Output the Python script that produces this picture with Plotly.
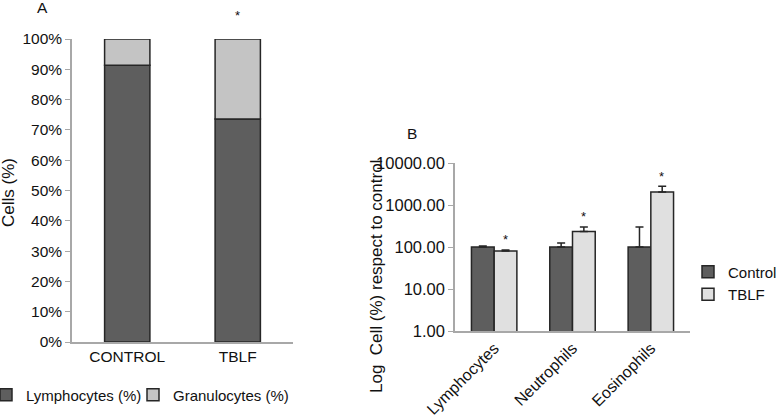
import numpy as np
import plotly.graph_objects as go

# panel A: cell composition (%)
groups_a = ["CONTROL", "TBLF"]
lymphocytes = [91.3, 73.6]
granulocytes = [8.7, 26.4]

# panel B: log cell (%) respect to control
cells_b = ["Lymphocytes", "Neutrophils", "Eosinophils"]
control_b = [100, 100, 100]
control_err = [5, 25, 200]
tblf_b = [80, 235, 2050]
tblf_err = [5, 65, 750]

DARK = "#5e5e5e"
LIGHT_A = "#c4c4c4"
LIGHT_B = "#e0e0e0"
EDGE = "#262626"
AXIS = "#a8a8a8"
FONT = "Liberation Sans, Arial, sans-serif"

fig = go.Figure()

# A: stacked bars built from base (each series in its own legend box)
fig.add_trace(go.Bar(
    x=groups_a, y=lymphocytes, name="Lymphocytes (%)",
    marker=dict(color=DARK, line=dict(color=EDGE, width=1.5)),
    width=0.41, offset=-0.205, xaxis="x", yaxis="y", legend="legend",
))
fig.add_trace(go.Bar(
    x=groups_a, y=granulocytes, base=lymphocytes, name="Granulocytes (%)",
    marker=dict(color=LIGHT_A, line=dict(color=EDGE, width=1.5)),
    width=0.41, offset=-0.205, xaxis="x", yaxis="y", legend="legend3",
))

# B: grouped bars with upper error bars
fig.add_trace(go.Bar(
    x=cells_b, y=control_b, name="Control",
    marker=dict(color=DARK, line=dict(color=EDGE, width=1.5)),
    error_y=dict(type="data", array=control_err, arrayminus=[0] * 3,
                 symmetric=False, color=EDGE, thickness=1.5, width=4),
    xaxis="x2", yaxis="y2", legend="legend2",
))
fig.add_trace(go.Bar(
    x=cells_b, y=tblf_b, name="TBLF",
    marker=dict(color=LIGHT_B, line=dict(color=EDGE, width=1.5)),
    error_y=dict(type="data", array=tblf_err, arrayminus=[0] * 3,
                 symmetric=False, color=EDGE, thickness=1.5, width=4),
    xaxis="x2", yaxis="y2", legend="legend2",
))

annotations = [
    dict(text="A", x=42, y=8, size=15.5),
    dict(text="B", x=412, y=133, size=15.5),
    dict(text="Cells (%)", x=8, y=193, textangle=-90, size=17),
    dict(text="Log  Cell (%) respect to control", x=376, y=277, textangle=-90, size=17),
]
# convert pixel positions of the labels to paper coords
for a in annotations:
    a["x"] = a["x"] / 777
    a["y"] = 1 - a["y"] / 419
    a["font"] = dict(size=a.pop("size"))
    a.update(xref="paper", yref="paper", showarrow=False,
             xanchor="center", yanchor="middle")

# significance asterisks
annotations.append(dict(text="*", x="TBLF", y=100, xref="x", yref="y",
                        yshift=24, showarrow=False, font=dict(size=13)))
for c, t, e in zip(cells_b, tblf_b, tblf_err):
    annotations.append(dict(text="*", x=c, y=np.log10(t + e), xref="x2", yref="y2",
                            xshift=11, yshift=10, showarrow=False, font=dict(size=13)))

leg_common = dict(yanchor="middle", xanchor="left", itemwidth=30,
                  traceorder="normal", bgcolor="rgba(0,0,0,0)", visible=True)

fig.update_layout(
    width=777, height=419,
    margin=dict(l=0, r=0, t=0, b=0, autoexpand=False),
    paper_bgcolor="white", plot_bgcolor="white",
    font=dict(family=FONT, size=15.5, color="#111111"),
    showlegend=True,
    barmode="group", bargap=0.42, bargroupgap=0,
    xaxis=dict(domain=[72 / 777, 293 / 777], anchor="y", automargin=False,
               showline=True, linecolor=AXIS, linewidth=1.5, ticks="",
               tickfont=dict(size=15.5)),
    yaxis=dict(domain=[1 - 342 / 419, 1 - 39 / 419], anchor="x", range=[0, 100],
               automargin=False,
               tickvals=list(range(0, 101, 10)),
               ticktext=[f"{v}%" for v in range(0, 101, 10)],
               showline=True, linecolor=AXIS, linewidth=1.5, showgrid=False,
               zeroline=False, ticks="outside", ticklen=5, tickcolor=AXIS,
               tickfont=dict(size=15.5)),
    xaxis2=dict(domain=[455 / 777, 690 / 777], anchor="y2", automargin=False,
                showline=True, linecolor=AXIS, linewidth=1.5, ticks="",
                tickangle=-45, tickfont=dict(size=16)),
    yaxis2=dict(domain=[1 - 331 / 419, 1 - 163 / 419], anchor="x2", type="log",
                range=[0, 4], tickvals=[1, 10, 100, 1000, 10000],
                automargin=False,
                ticktext=["1.00", "10.00", "100.00", "1000.00", "10000.00"],
                showline=True, linecolor=AXIS, linewidth=1.5, showgrid=False,
                zeroline=False, ticks="outside", ticklen=5, tickcolor=AXIS,
                tickfont=dict(size=16.5)),
    legend=dict(x=-14 / 777, y=1 - 395 / 419, font=dict(size=15), **leg_common),
    legend3=dict(x=133 / 777, y=1 - 395 / 419, font=dict(size=15), **leg_common),
    legend2=dict(x=688 / 777, y=1 - 283 / 419, font=dict(size=15), **leg_common),
    annotations=annotations,
)

# drop the page's default body margin so the figure sits at the window corner
fig.write_html("out.html", config={"displayModeBar": False},
               post_script="document.body.style.margin='0';")
